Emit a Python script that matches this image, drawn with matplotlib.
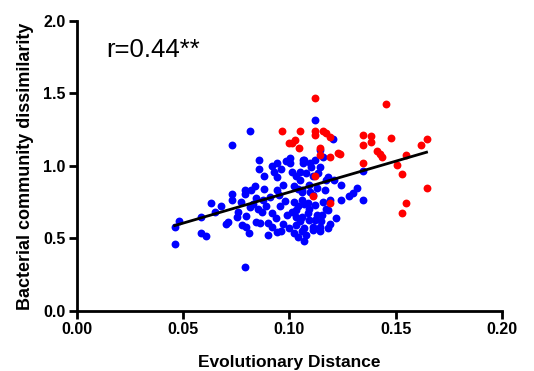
import numpy as np
import matplotlib
matplotlib.use("Agg")
import matplotlib.pyplot as plt

# blue samples (evolutionary distance, dissimilarity)
blue_x = [0.046, 0.046, 0.048, 0.0586, 0.0586, 0.0607, 0.0629, 0.0649, 0.068, 0.070,
          0.0712, 0.0729, 0.0729, 0.0729, 0.0751, 0.0759, 0.0770, 0.0775, 0.0790, 0.0790,
          0.0795, 0.0795, 0.0790, 0.0810, 0.0814, 0.0814, 0.082, 0.083, 0.0837, 0.0842,
          0.0845, 0.085, 0.0858, 0.0858, 0.086, 0.087, 0.0876, 0.088, 0.088, 0.089,
          0.090, 0.090, 0.0908, 0.0916, 0.092, 0.092, 0.0927, 0.0936, 0.094, 0.094,
          0.0942, 0.0942, 0.095, 0.0955, 0.096, 0.096, 0.097, 0.097, 0.098, 0.0986,
          0.099, 0.100, 0.1002, 0.1002, 0.101, 0.101, 0.102, 0.102, 0.102, 0.1033,
          0.103, 0.103, 0.103, 0.104, 0.104, 0.104, 0.105, 0.105, 0.105, 0.1057,
          0.1057, 0.1057, 0.1065, 0.1065, 0.106, 0.106, 0.107, 0.107, 0.107, 0.107,
          0.108, 0.108, 0.1088, 0.1088, 0.1096, 0.1096, 0.109, 0.109, 0.109, 0.110,
          0.111, 0.111, 0.111, 0.111, 0.112, 0.112, 0.112, 0.112, 0.113, 0.113,
          0.1135, 0.1143, 0.1143, 0.1143, 0.1143, 0.1151, 0.115, 0.1159, 0.1166, 0.116,
          0.117, 0.117, 0.118, 0.118, 0.118, 0.119, 0.119, 0.1206, 0.121, 0.1245,
          0.1245, 0.128, 0.130, 0.1316, 0.1344, 0.1344, 0.122]
blue_y = [0.577, 0.462, 0.623, 0.650, 0.535, 0.517, 0.743, 0.685, 0.72, 0.60,
          0.616, 1.145, 0.807, 0.766, 0.650, 0.685, 0.754, 0.593, 0.834, 0.807,
          0.655, 0.579, 0.306, 0.540, 0.717, 1.243, 0.83, 0.74, 0.862, 0.616,
          0.777, 0.70, 1.037, 0.980, 0.607, 0.68, 0.766, 0.840, 0.93, 0.72,
          0.605, 0.524, 0.788, 0.674, 1.00, 0.58, 0.960, 0.641, 0.924, 0.834,
          1.020, 0.547, 0.80, 0.720, 0.98, 0.55, 0.87, 0.60, 0.76, 1.030,
          0.66, 0.57, 1.053, 1.020, 0.96, 0.68, 0.86, 0.75, 0.54, 0.697,
          0.93, 0.65, 0.59, 0.84, 0.72, 0.51, 0.90, 0.96, 0.62, 0.834,
          0.766, 0.650, 1.040, 1.020, 0.82, 0.55, 1.04, 0.74, 0.57, 0.48,
          0.95, 0.52, 0.743, 0.674, 1.02, 0.823, 0.87, 0.70, 0.63, 0.99,
          0.93, 0.80, 0.58, 0.56, 1.317, 1.04, 0.731, 0.628, 0.85, 0.66,
          0.95, 1.110, 0.995, 0.58, 0.55, 0.662, 0.62, 1.064, 0.834, 0.75,
          0.90, 0.70, 0.926, 0.697, 0.57, 0.766, 0.60, 1.184, 0.90, 0.869,
          0.766, 0.79, 0.81, 0.846, 0.961, 0.766, 0.64]

# red samples
red_x = [0.0963, 0.100, 0.1052, 0.112, 0.112, 0.112, 0.1156, 0.1174, 0.119, 0.1025,
         0.101, 0.1046, 0.1143, 0.1143, 0.119, 0.123, 0.112, 0.119, 0.111, 0.1453,
         0.1344, 0.1386, 0.1386, 0.1344, 0.148, 0.1617, 0.1645, 0.141, 0.1425, 0.1435,
         0.1548, 0.1344, 0.1504, 0.1529, 0.1645, 0.1548, 0.1529, 0.1237]
red_y = [1.243, 1.160, 1.243, 1.467, 1.240, 1.210, 1.237, 1.225, 1.200, 1.180,
         1.156, 1.120, 1.120, 1.076, 1.064, 1.087, 0.930, 0.743, 0.790, 1.423,
         1.214, 1.207, 1.161, 1.145, 1.193, 1.145, 1.184, 1.099, 1.083, 1.060,
         1.076, 1.018, 1.007, 0.943, 0.844, 0.743, 0.674, 1.083]

r_text = "r=0.44**"

plt.rcParams['font.family'] = ['Liberation Sans', 'DejaVu Sans']

fig = plt.figure(figsize=(5.34, 3.71), dpi=100)
ax = fig.add_axes([0.144, 0.162, 0.796, 0.782])

ax.scatter(blue_x, blue_y, s=32, color='#0000ff', linewidths=0, zorder=2)
ax.scatter(red_x, red_y, s=32, color='#ff0000', linewidths=0, zorder=2)

# linear fit over all samples
all_x = np.array(blue_x + red_x)
all_y = np.array(blue_y + red_y)
k, b = np.polyfit(all_x, all_y, 1)
xx = np.array([all_x.min(), all_x.max()])
ax.plot(xx, k * xx + b, color='black', lw=2, zorder=3)

ax.set_xlim(0, 0.20)
ax.set_ylim(0, 2.0)
ax.set_xticks([0.00, 0.05, 0.10, 0.15, 0.20])
ax.set_yticks([0.0, 0.5, 1.0, 1.5, 2.0])
ax.set_xticklabels(['0.00', '0.05', '0.10', '0.15', '0.20'])
ax.set_yticklabels(['0.0', '0.5', '1.0', '1.5', '2.0'])

for sp in ['top', 'right']:
    ax.spines[sp].set_visible(False)
for sp in ['left', 'bottom']:
    ax.spines[sp].set_linewidth(2)
ax.tick_params(width=2, length=6, labelsize=11.5, pad=2)
for lab in ax.get_xticklabels() + ax.get_yticklabels():
    lab.set_fontweight('bold')

ax.set_xlabel('Evolutionary Distance', fontsize=12.5, fontweight='bold', labelpad=13)
ax.set_ylabel('Bacterial community dissimilarity', fontsize=13, fontweight='bold', labelpad=7)
ax.text(0.07, 0.9, r_text, transform=ax.transAxes, fontsize=18.5, va='center', ha='left')

fig.savefig('out.png', dpi=100)
